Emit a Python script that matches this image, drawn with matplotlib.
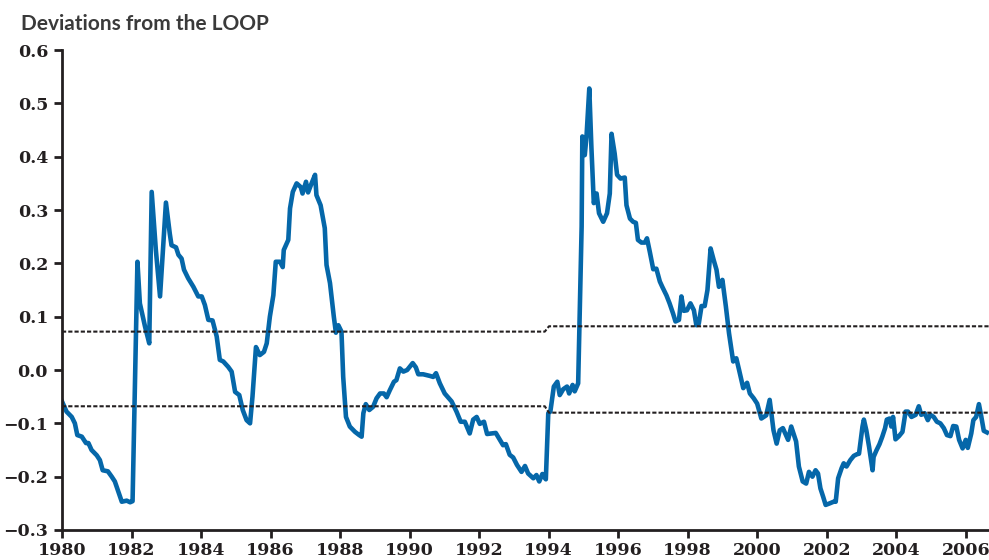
import matplotlib.pyplot as plt

# deviations from the law of one price (decimal years)
years = [
    1980.00, 1980.13, 1980.28, 1980.37, 1980.44, 1980.57, 1980.69, 1980.76, 1980.85, 1981.00,
    1981.09, 1981.17, 1981.32, 1981.43, 1981.52, 1981.62, 1981.72, 1981.86, 1981.96, 1982.03,
    1982.17, 1982.24, 1982.39, 1982.51, 1982.58, 1982.70, 1982.82, 1982.99, 1983.10, 1983.15,
    1983.28, 1983.35, 1983.44, 1983.51, 1983.63, 1983.78, 1983.92, 1984.02, 1984.11, 1984.21,
    1984.33, 1984.45, 1984.54, 1984.64, 1984.78, 1984.88, 1984.98, 1985.10, 1985.20, 1985.31,
    1985.41, 1985.48, 1985.58, 1985.69, 1985.81, 1985.89, 1985.98, 1986.08, 1986.15, 1986.27,
    1986.35, 1986.38, 1986.51, 1986.56, 1986.64, 1986.75, 1986.87, 1986.92, 1987.02, 1987.08,
    1987.18, 1987.28, 1987.32, 1987.44, 1987.56, 1987.61, 1987.71, 1987.82, 1987.88, 1987.95,
    1988.04, 1988.09, 1988.17, 1988.28, 1988.43, 1988.55, 1988.62, 1988.67, 1988.74, 1988.84,
    1988.95, 1989.05, 1989.15, 1989.26, 1989.34, 1989.43, 1989.55, 1989.62, 1989.72, 1989.82,
    1989.93, 1990.09, 1990.18, 1990.25, 1990.39, 1990.58, 1990.68, 1990.76, 1990.87, 1991.01,
    1991.21, 1991.35, 1991.47, 1991.59, 1991.73, 1991.83, 1991.93, 1992.02, 1992.14, 1992.23,
    1992.36, 1992.48, 1992.60, 1992.69, 1992.77, 1992.88, 1992.98, 1993.09, 1993.22, 1993.32,
    1993.41, 1993.56, 1993.65, 1993.73, 1993.82, 1993.92, 1993.99, 1994.05, 1994.15, 1994.25,
    1994.32, 1994.42, 1994.53, 1994.59, 1994.69, 1994.75, 1994.85, 1994.95, 1994.97, 1995.04,
    1995.09, 1995.17, 1995.23, 1995.30, 1995.38, 1995.45, 1995.57, 1995.68, 1995.76, 1995.81,
    1995.90, 1995.97, 1996.07, 1996.19, 1996.24, 1996.34, 1996.43, 1996.51, 1996.57, 1996.67,
    1996.77, 1996.83, 1996.91, 1997.01, 1997.10, 1997.20, 1997.27, 1997.39, 1997.48, 1997.58,
    1997.65, 1997.75, 1997.82, 1997.89, 1997.98, 1998.08, 1998.18, 1998.25, 1998.32, 1998.40,
    1998.49, 1998.57, 1998.66, 1998.75, 1998.83, 1998.90, 1999.00, 1999.10, 1999.19, 1999.31,
    1999.40, 1999.48, 1999.60, 1999.71, 1999.79, 1999.90, 2000.00, 2000.12, 2000.26, 2000.36,
    2000.47, 2000.56, 2000.65, 2000.74, 2000.89, 2000.98, 2001.12, 2001.20, 2001.31, 2001.41,
    2001.49, 2001.59, 2001.68, 2001.75, 2001.82, 2001.90, 2001.97, 2002.09, 2002.20, 2002.26,
    2002.33, 2002.43, 2002.49, 2002.57, 2002.68, 2002.78, 2002.87, 2002.93, 2003.03, 2003.07,
    2003.14, 2003.22, 2003.32, 2003.35, 2003.43, 2003.52, 2003.60, 2003.68, 2003.73, 2003.81,
    2003.86, 2003.91, 2003.98, 2004.08, 2004.18, 2004.27, 2004.34, 2004.44, 2004.56, 2004.65,
    2004.72, 2004.82, 2004.91, 2004.98, 2005.08, 2005.17, 2005.27, 2005.37, 2005.46, 2005.56,
    2005.64, 2005.73, 2005.81, 2005.91, 2006.00, 2006.06, 2006.16, 2006.22, 2006.30, 2006.38,
    2006.45, 2006.52, 2006.61,
]
deviation = [
    -0.059, -0.078, -0.088, -0.100, -0.122, -0.125, -0.137, -0.137, -0.150, -0.160,
    -0.169, -0.188, -0.190, -0.200, -0.209, -0.228, -0.247, -0.245, -0.248, -0.246,
    0.203, 0.125, 0.081, 0.050, 0.334, 0.225, 0.138, 0.314, 0.256, 0.234,
    0.230, 0.216, 0.209, 0.188, 0.172, 0.156, 0.138, 0.138, 0.122, 0.094,
    0.093, 0.063, 0.019, 0.016, 0.006, -0.003, -0.041, -0.047, -0.075, -0.094,
    -0.100, -0.050, 0.043, 0.028, 0.034, 0.050, 0.100, 0.140, 0.203, 0.203,
    0.193, 0.225, 0.244, 0.303, 0.334, 0.350, 0.343, 0.331, 0.353, 0.333,
    0.350, 0.366, 0.328, 0.309, 0.266, 0.197, 0.163, 0.100, 0.070, 0.084,
    0.072, -0.013, -0.088, -0.106, -0.116, -0.122, -0.125, -0.081, -0.064, -0.075,
    -0.069, -0.053, -0.044, -0.044, -0.051, -0.038, -0.022, -0.019, 0.003, -0.003,
    0.000, 0.013, 0.005, -0.008, -0.008, -0.011, -0.013, -0.006, -0.025, -0.044,
    -0.059, -0.078, -0.097, -0.097, -0.119, -0.093, -0.088, -0.101, -0.097, -0.120,
    -0.119, -0.118, -0.131, -0.141, -0.139, -0.159, -0.164, -0.178, -0.191, -0.180,
    -0.194, -0.203, -0.197, -0.209, -0.195, -0.205, -0.081, -0.078, -0.031, -0.022,
    -0.047, -0.036, -0.031, -0.044, -0.028, -0.040, -0.025, 0.269, 0.438, 0.403,
    0.438, 0.528, 0.419, 0.313, 0.331, 0.294, 0.278, 0.294, 0.331, 0.443,
    0.406, 0.366, 0.359, 0.361, 0.309, 0.284, 0.278, 0.276, 0.244, 0.239,
    0.239, 0.247, 0.222, 0.189, 0.190, 0.166, 0.156, 0.140, 0.125, 0.106,
    0.091, 0.094, 0.138, 0.111, 0.112, 0.125, 0.112, 0.084, 0.087, 0.120,
    0.120, 0.150, 0.228, 0.206, 0.188, 0.156, 0.169, 0.119, 0.069, 0.016,
    0.022, 0.000, -0.034, -0.024, -0.044, -0.053, -0.063, -0.091, -0.085, -0.056,
    -0.113, -0.138, -0.113, -0.109, -0.131, -0.106, -0.134, -0.181, -0.209, -0.213,
    -0.191, -0.200, -0.188, -0.194, -0.222, -0.238, -0.253, -0.250, -0.247, -0.247,
    -0.203, -0.184, -0.175, -0.181, -0.169, -0.161, -0.158, -0.157, -0.106, -0.093,
    -0.113, -0.144, -0.188, -0.163, -0.151, -0.139, -0.125, -0.109, -0.093, -0.091,
    -0.106, -0.088, -0.130, -0.124, -0.116, -0.078, -0.078, -0.088, -0.084, -0.068,
    -0.084, -0.081, -0.094, -0.084, -0.088, -0.097, -0.100, -0.109, -0.122, -0.124,
    -0.105, -0.106, -0.131, -0.147, -0.131, -0.146, -0.119, -0.094, -0.088, -0.064,
    -0.088, -0.114, -0.117,
]

# threshold bands (before / after the 1994 break)
band_years = [1980.0, 1993.89, 1994.01, 2006.67]
upper_band = [0.072, 0.072, 0.082, 0.082]
lower_band = [-0.068, -0.068, -0.080, -0.080]

blue = '#0567a9'
ink = '#231f20'

fig = plt.figure(figsize=(9.89, 5.6), dpi=100)
ax = fig.add_axes([0.0627, 0.0536, 0.9373, 0.857])

ax.plot(years, deviation, color=blue, lw=3.3, solid_joinstyle='round', zorder=2)
ax.plot(band_years, upper_band, color=ink, lw=1.5, ls=(0, (2.0, 1.0)), zorder=3)
ax.plot(band_years, lower_band, color=ink, lw=1.5, ls=(0, (2.0, 1.0)), zorder=3)

ax.set_xlim(1980, 2006.67)
ax.set_ylim(-0.3, 0.6)
ax.set_xticks(range(1980, 2007, 2))
ax.set_yticks([-0.3, -0.2, -0.1, 0.0, 0.1, 0.2, 0.3, 0.4, 0.5, 0.6])
ax.set_yticklabels(['\u22120.3', '\u22120.2', '\u22120.1', '0.0', '0.1', '0.2',
                    '0.3', '0.4', '0.5', '0.6'])

for s in ['top', 'right']:
    ax.spines[s].set_visible(False)
for s in ['left', 'bottom']:
    ax.spines[s].set_color(ink)
    ax.spines[s].set_linewidth(2)

ax.tick_params(axis='both', direction='out', length=6, width=2, color=ink,
               labelcolor=ink, labelsize=12.5)
ax.tick_params(axis='x', pad=3)
ax.tick_params(axis='y', pad=4)
for lbl in ax.get_xticklabels() + ax.get_yticklabels():
    lbl.set_family('DejaVu Serif')
    lbl.set_fontweight('bold')

fig.text(0.021, 0.958, 'Deviations from the LOOP', fontsize=15, fontweight='bold',
         family='Lato', color='#3a3a3a', ha='left', va='center')

fig.savefig('out.png', dpi=100)
